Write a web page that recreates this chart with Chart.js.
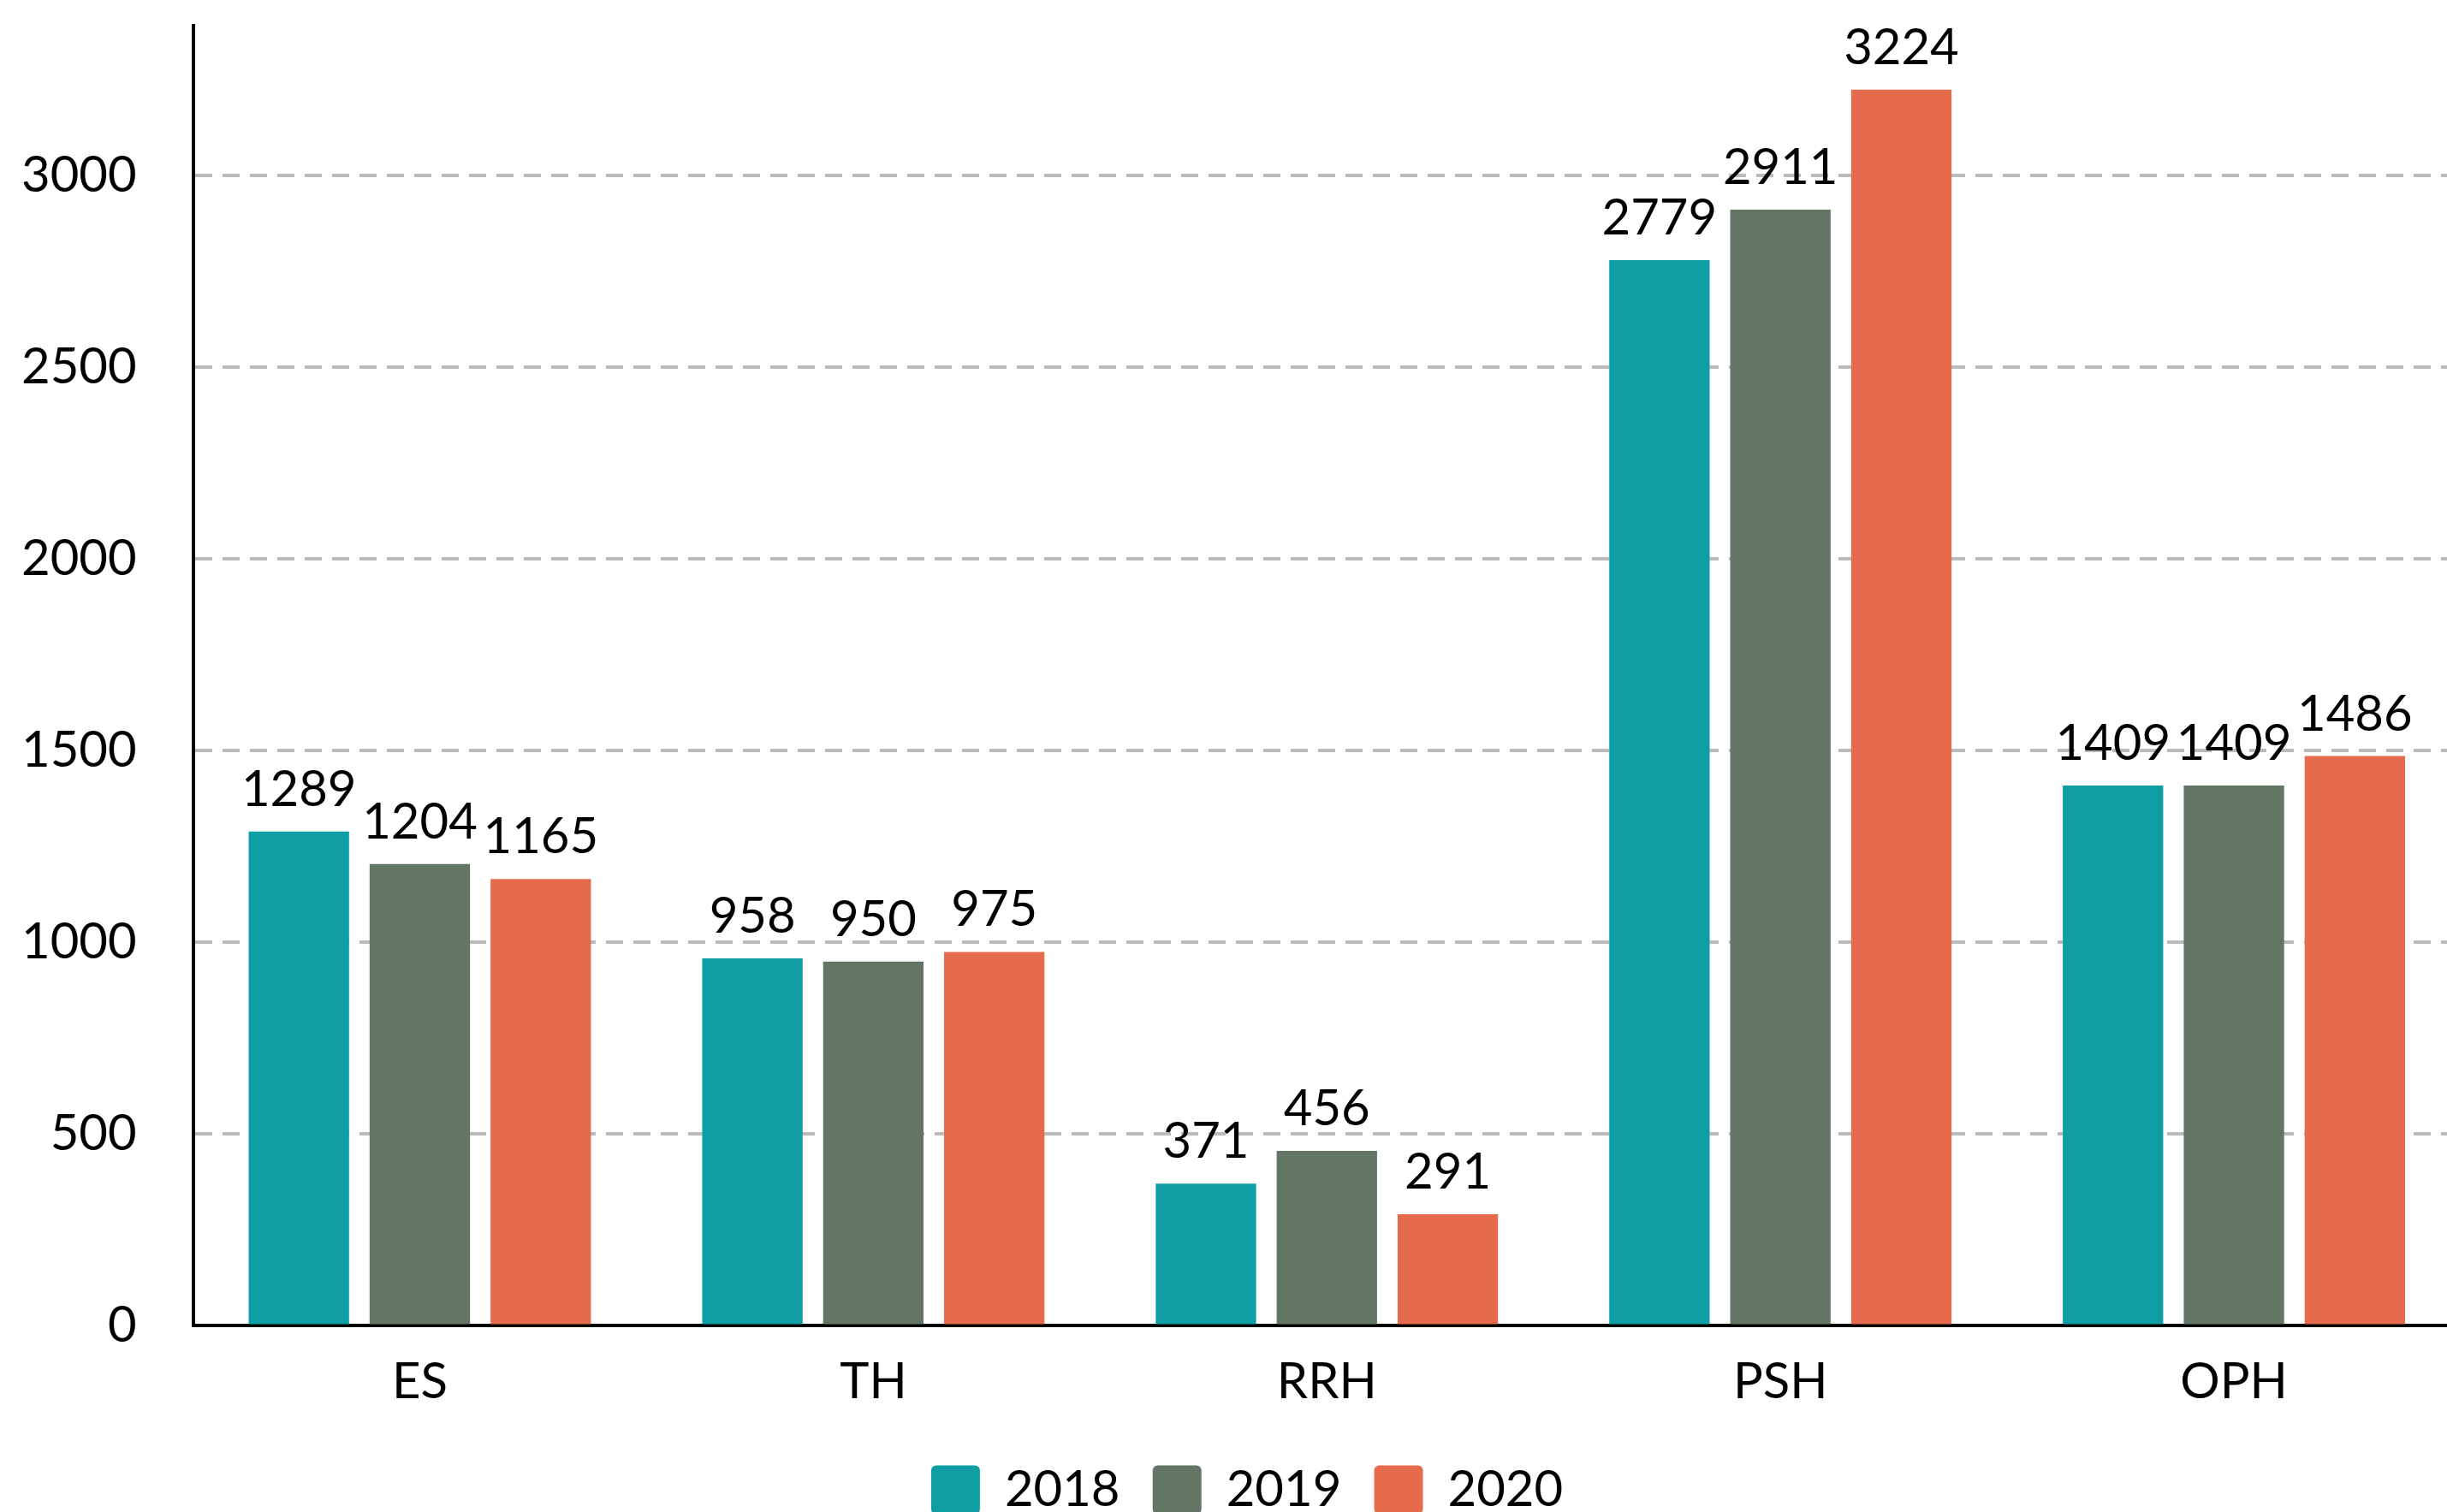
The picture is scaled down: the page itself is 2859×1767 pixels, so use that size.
<!DOCTYPE html>
<html>
<head>
<meta charset="utf-8">
<script src="https://cdn.jsdelivr.net/npm/chart.js"></script>
<style>
    html, body { margin: 0; padding: 0; background: #fff; overflow: hidden; }
    #wrap { width: 2875px; height: 1780px; position: relative; }
</style>
</head>
<body>
<div id="wrap"><canvas id="chart"></canvas></div>
<script>
const categories = ['ES', 'TH', 'RRH', 'PSH', 'OPH'];
const years = ['2018', '2019', '2020'];
const values2018 = [1289, 958, 371, 2779, 1409];
const values2019 = [1204, 950, 456, 2911, 1409];
const values2020 = [1165, 975, 291, 3224, 1486];
const colors = ['#0f9ea4', '#637564', '#e66b4d'];
const yTicks = [0, 500, 1000, 1500, 2000, 2500, 3000];

const FONT = 'Lato';
const SIZE = 58;

// draws the value above each bar
const valueLabels = {
    id: 'valueLabels',
    afterDatasetsDraw(chart) {
        const ctx = chart.ctx;
        ctx.save();
        ctx.font = SIZE + 'px ' + FONT;
        ctx.fillStyle = '#000';
        ctx.textAlign = 'center';
        ctx.textBaseline = 'alphabetic';
        chart.data.datasets.forEach((ds, i) => {
            chart.getDatasetMeta(i).data.forEach((bar, j) => {
                ctx.fillText(String(ds.data[j]), bar.x, bar.y - 30);
            });
        });
        ctx.restore();
    }
};

// legend sits a bit right of the canvas centre in the original
const legendShift = {
    id: 'legendShift',
    afterLayout(chart) {
        if (chart.legend) {
            chart.legend.left += 12;
            chart.legend.right += 12;
        }
    }
};

function drawChart() {
    const context = document.getElementById('chart');
    const seriesValues = [values2018, values2019, values2020];

    const data = {
        labels: categories,
        datasets: years.map((year, i) => ({
            label: year,
            data: seriesValues[i],
            backgroundColor: colors[i],
            borderWidth: 0,
            categoryPercentage: 0.8,
            barPercentage: 0.83
        }))
    };

    new Chart(context, {
        type: 'bar',
        data: data,
        plugins: [valueLabels, legendShift],
        options: {
            responsive: true,
            maintainAspectRatio: false,
            animation: false,
            layout: { padding: { top: 0, right: 0, left: 15, bottom: 0 } },
            plugins: {
                tooltip: { enabled: false },
                legend: {
                    position: 'bottom',
                    labels: {
                        font: { family: FONT, size: SIZE },
                        color: '#000',
                        boxWidth: 57,
                        boxHeight: 57,
                        useBorderRadius: true,
                        borderRadius: 6,
                        padding: 31,
                        // a little extra room between items, except after the last one
                        generateLabels: chart => {
                            const items = Chart.defaults.plugins.legend.labels.generateLabels(chart);
                            items.forEach((item, i) => {
                                if (i < items.length - 1) item.text += '\u2009';
                            });
                            return items;
                        }
                    }
                }
            },
            scales: {
                x: {
                    grid: { display: false, drawTicks: false },
                    border: { display: true, color: '#000', width: 4 },
                    ticks: {
                        font: { family: FONT, size: SIZE },
                        color: '#000',
                        padding: 31
                    }
                },
                y: {
                    min: 0,
                    max: 3390,
                    afterBuildTicks: axis => {
                        axis.ticks = yTicks.map(v => ({ value: v }));
                    },
                    grid: {
                        color: '#bbbbbb',
                        lineWidth: 4,
                        drawTicks: true,
                        tickLength: 56,
                        tickColor: 'rgba(0,0,0,0)'
                    },
                    border: { display: true, color: '#000', width: 4, dash: [20, 12] },
                    ticks: {
                        font: { family: FONT, size: SIZE, lineHeight: 0.7 },
                        color: '#000',
                        padding: 10,
                        callback: v => String(v)
                    }
                }
            }
        }
    });
}

drawChart();
</script>
</body>
</html>
